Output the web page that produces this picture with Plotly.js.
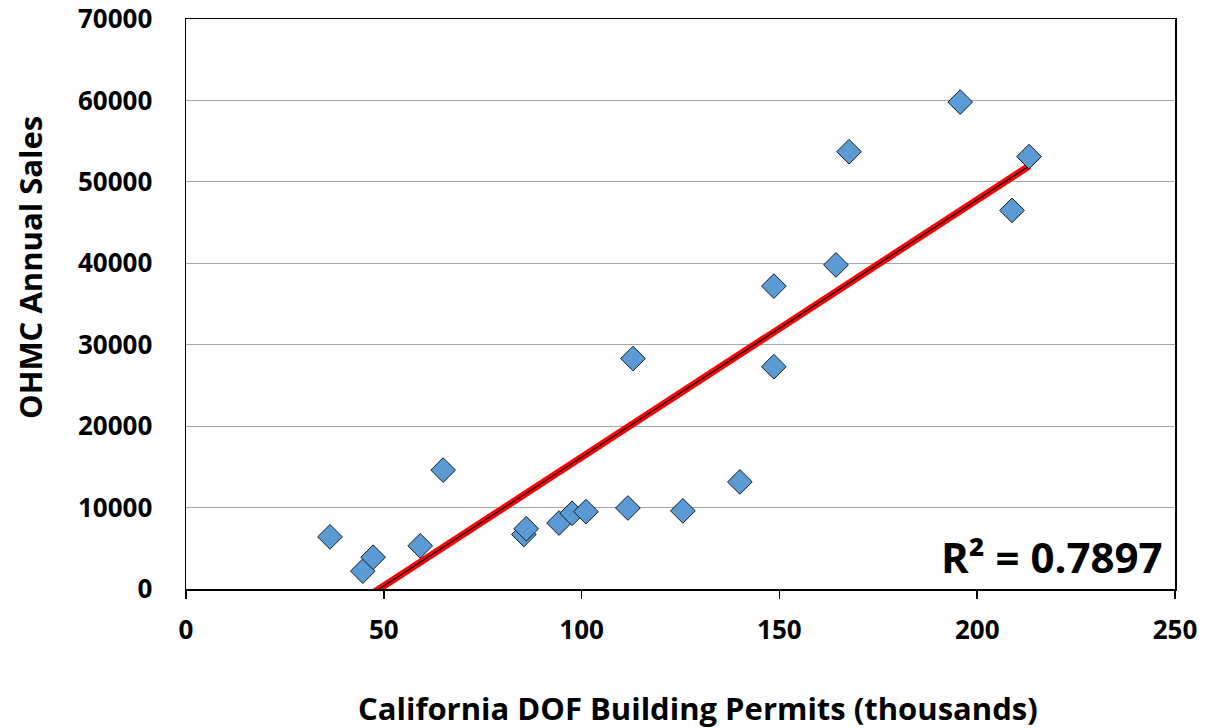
<!DOCTYPE html>
<html>
<head>
<meta charset="utf-8">
<script src="https://cdn.plot.ly/plotly-3.0.1.min.js"></script>
<style>html,body{margin:0;padding:0;background:#fff;}#chart{width:1226px;height:728px;}</style>
</head>
<body>
<div id="chart"></div>
<script>
// Data
const permits = [36.4, 44.7, 47.3, 59.2, 65.0, 85.4, 86.0, 94.3, 97.6, 101.1, 111.7, 113.0, 125.6, 140.0, 148.6, 148.6, 164.3, 167.6, 195.7, 208.8, 213.1];
const sales   = [6400, 2200, 3900, 5300, 14600, 6700, 7400, 8100, 9300, 9500, 9950, 28300, 9600, 13150, 27300, 37200, 39800, 53700, 59800, 46500, 53100];
const xTicks = [0, 50, 100, 150, 200, 250];
const yTicks = [0, 10000, 20000, 30000, 40000, 50000, 60000, 70000];
const xTitle = 'California DOF Building Permits (thousands)';
const yTitle = 'OHMC Annual Sales';
const rSquaredLabel = 'R² = 0.7897';

// Least-squares linear trendline over the data's x range
const n = permits.length;
const mx = permits.reduce((a, b) => a + b, 0) / n;
const my = sales.reduce((a, b) => a + b, 0) / n;
let sxy = 0, sxx = 0;
for (let i = 0; i < n; i++) { sxy += (permits[i] - mx) * (sales[i] - my); sxx += (permits[i] - mx) ** 2; }
const slope = sxy / sxx, intercept = my - slope * mx;
const xMin = Math.min(...permits), xMax = Math.max(...permits);
const trendX = [xMin, xMax];
const trendY = trendX.map(v => intercept + slope * v);

const font = 'Open Sans, Liberation Sans, Arial, sans-serif';

const traces = [
  { x: trendX, y: trendY, mode: 'lines', line: { color: '#FF0000', width: 7 }, hoverinfo: 'skip', showlegend: false },
  { x: trendX, y: trendY, mode: 'lines', line: { color: '#000000', width: 1.2 }, hoverinfo: 'skip', showlegend: false },
  { x: permits, y: sales, mode: 'markers', showlegend: false,
    marker: { symbol: 'diamond', size: 19, color: '#5B9BD5', line: { color: '#1a1a1a', width: 1 } } }
];

const layout = {
  width: 1226, height: 728,
  paper_bgcolor: '#ffffff', plot_bgcolor: '#ffffff',
  margin: { l: 186, r: 51, t: 19, b: 139 },
  showlegend: false,
  font: { family: font, color: '#000', size: 22 },
  xaxis: {
    range: [0, 250], tickvals: xTicks, ticktext: xTicks.map(String),
    showgrid: false, zeroline: false,
    showline: true, linecolor: '#000', linewidth: 1.5, mirror: true,
    ticks: 'outside', ticklen: 8, tickcolor: '#000', tickwidth: 1.5,
    ticklabelstandoff: 9, ticklabeloverflow: 'allow',
    tickfont: { family: font, size: 26, color: '#000', weight: 'bold' }
  },
  yaxis: {
    range: [0, 70000], tickvals: yTicks, ticktext: yTicks.map(String),
    showgrid: true, gridcolor: '#A6A6A6', gridwidth: 1.2, zeroline: false,
    showline: true, linecolor: '#000', linewidth: 1.5, mirror: true,
    ticks: '', ticklabelstandoff: 27, ticklabeloverflow: 'allow',
    tickfont: { family: font, size: 26, color: '#000', weight: 'bold' }
  },
  annotations: [
    { xref: 'paper', yref: 'paper', x: 0.99, y: 0.003, xanchor: 'right', yanchor: 'bottom',
      text: rSquaredLabel, showarrow: false,
      font: { family: font, size: 42, color: '#000', weight: 'bold' } },
    { xref: 'paper', yref: 'paper', x: (698 - 186) / 989, y: (589 - 708) / 570,
      xanchor: 'center', yanchor: 'middle', text: xTitle, showarrow: false,
      font: { family: font, size: 31, color: '#000', weight: 'bold' } },
    { xref: 'paper', yref: 'paper', x: (30 - 186) / 989, y: (589 - 268) / 570,
      xanchor: 'center', yanchor: 'middle', textangle: -90, text: yTitle, showarrow: false,
      font: { family: font, size: 31, color: '#000', weight: 'bold' } }
  ]
};

Plotly.newPlot('chart', traces, layout, { staticPlot: true, displayModeBar: false });
</script>
</body>
</html>
